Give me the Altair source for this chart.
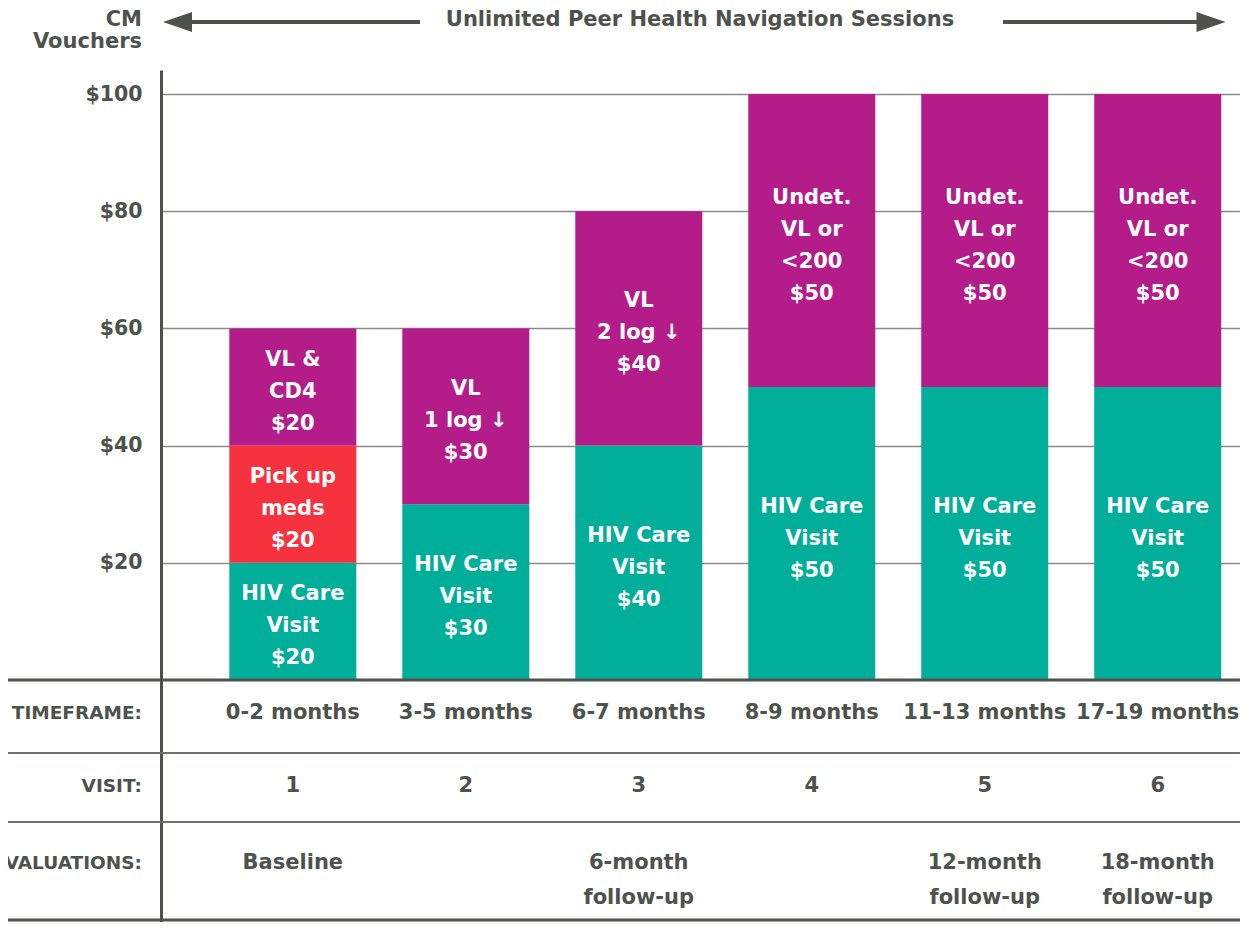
import altair as alt
import pandas as pd

# ---------------- data ----------------
timeframes = ["0-2 months", "3-5 months", "6-7 months", "8-9 months", "11-13 months", "17-19 months"]
visits = ["1", "2", "3", "4", "5", "6"]
eval_line1 = ["Baseline", "", "6-month", "", "12-month", "18-month"]
eval_line2 = ["", "", "follow-up", "", "follow-up", "follow-up"]

care_values = [20, 30, 40, 50, 50, 50]
meds_values = [20, 0, 0, 0, 0, 0]
vl_values = [20, 30, 40, 50, 50, 50]

care_labels = ["HIV Care\nVisit\n$20", "HIV Care\nVisit\n$30", "HIV Care\nVisit\n$40",
               "HIV Care\nVisit\n$50", "HIV Care\nVisit\n$50", "HIV Care\nVisit\n$50"]
meds_labels = ["Pick up\nmeds\n$20", "", "", "", "", ""]
vl_labels = ["VL &\nCD4\n$20", "VL\n1 log ↓\n$30", "VL\n2 log ↓\n$40",
             "Undet.\nVL or\n<200\n$50", "Undet.\nVL or\n<200\n$50", "Undet.\nVL or\n<200\n$50"]

y_ticks = [20, 40, 60, 80, 100]

categories = ["HIV Care Visit", "Pick up meds", "Viral load"]
colors = ["#00AE9A", "#F6323F", "#B41C8A"]

# ---------------- layout constants ----------------
W, H = 1079, 852
FONT = "DejaVu Sans"
GRAY = "#4d524c"
Y_TOP, Y_BOTTOM = 104.1, -41.3
PX_PER_UNIT = H / (Y_TOP - Y_BOTTOM)
LINE_H = 32

# ---------------- build tables ----------------
rows = []
for i in range(len(timeframes)):
    base = 0
    for cat, vals, labs in zip(categories, [care_values, meds_values, vl_values],
                               [care_labels, meds_labels, vl_labels]):
        v = vals[i]
        if v > 0:
            n_lines = labs[i].count("\n") + 1
            first_line = base + v / 2 + (n_lines - 1) / 2 * LINE_H / PX_PER_UNIT
            rows.append({"idx": i, "category": cat, "start": base, "end": base + v,
                         "text_y": first_line, "label": labs[i]})
        base += v
seg = pd.DataFrame(rows)

table = pd.DataFrame({
    "idx": list(range(len(timeframes))),
    "timeframe": timeframes,
    "visit": visits,
    "eval1": eval_line1,
    "eval2": eval_line2,
})

xscale = alt.Scale(domain=[-0.7331, 5.4467], nice=False, zero=False)
yscale = alt.Scale(domain=[Y_BOTTOM, Y_TOP], nice=False, zero=False)

yaxis = alt.Axis(values=y_ticks, labelExpr="'$' + datum.value", title=None,
                 grid=True, gridColor="#8a8a8a", gridWidth=1.5,
                 domain=True, domainColor=GRAY, domainWidth=3,
                 ticks=False, labelPadding=19, labelFont=FONT, labelFontSize=20.5,
                 labelFontWeight="bold", labelColor=GRAY)

bars = alt.Chart(seg).mark_bar(width=127).encode(
    x=alt.X("idx:Q", scale=xscale, axis=None),
    y=alt.Y("start:Q", scale=yscale, axis=yaxis),
    y2="end:Q",
    color=alt.Color("category:N", scale=alt.Scale(domain=categories, range=colors), legend=None),
)

bar_text = alt.Chart(seg).mark_text(
    font=FONT, fontSize=21, fontWeight="bold", color="white",
    lineBreak="\n", lineHeight=LINE_H, baseline="middle", align="center", dy=5
).encode(
    x=alt.X("idx:Q", scale=xscale),
    y=alt.Y("text_y:Q", scale=yscale),
    text="label:N",
)

def table_text(field, ypx):
    return alt.Chart(table).mark_text(
        font=FONT, fontSize=21, fontWeight="bold", color=GRAY, baseline="middle", align="center"
    ).encode(x=alt.X("idx:Q", scale=xscale), y=alt.value(ypx), text=f"{field}:N")

tf_text = table_text("timeframe", 643)
visit_text = table_text("visit", 716)
ev1_text = table_text("eval1", 793)
ev2_text = table_text("eval2", 828)

one = pd.DataFrame({"k": [0]})

def label(txt, xpx, ypx, size, align="right"):
    return alt.Chart(one).mark_text(
        text=txt, font=FONT, fontSize=size, fontWeight="bold", color=GRAY,
        baseline="middle", align=align
    ).encode(x=alt.value(xpx), y=alt.value(ypx))

row_labels = [
    label("TIMEFRAME:", -19, 643, 18.5),
    label("VISIT:", -19, 716, 18.5),
    label("EVALUATIONS:", -19, 793, 18.5),
    label("CM", -19, -50, 21),
    label("Vouchers", -19, -28, 21),
    label("Unlimited Peer Health Navigation Sessions", 539, -50, 21, "center"),
]

def hline(ypx, color, width):
    return alt.Chart(one).mark_rule(color=color, strokeWidth=width).encode(
        x=alt.value(-161), x2=alt.value(W), y=alt.value(ypx))

lines = [
    hline(610, GRAY, 3),
    hline(683, "#6e726c", 2),
    hline(752, "#6e726c", 2),
    hline(850, GRAY, 3),
]

def arrow_line(x1, x2):
    return alt.Chart(one).mark_rule(color=GRAY, strokeWidth=4).encode(
        x=alt.value(x1), x2=alt.value(x2), y=alt.value(-48))

def arrow_head(xc, path):
    return alt.Chart(one).mark_point(shape=path, filled=True, color=GRAY, opacity=1,
                                     size=841, strokeWidth=0).encode(
        x=alt.value(xc), y=alt.value(-48))

arrows = [
    arrow_line(28, 259),
    arrow_line(842, 1038),
    arrow_head(16.5, "M-1,0L1,-0.69L1,0.69Z"),
    arrow_head(1050, "M1,0L-1,-0.69L-1,0.69Z"),
]

chart = alt.layer(
    bars, bar_text, tf_text, visit_text, ev1_text, ev2_text,
    *lines, *row_labels, *arrows
).properties(
    width=W, height=H,
    autosize=alt.AutoSizeParams(type="none"),
    padding={"left": 153, "top": 62, "right": 0, "bottom": 0},
).configure_view(stroke=None)

chart.save("out.html", embed_options={"renderer": "svg", "actions": False})
